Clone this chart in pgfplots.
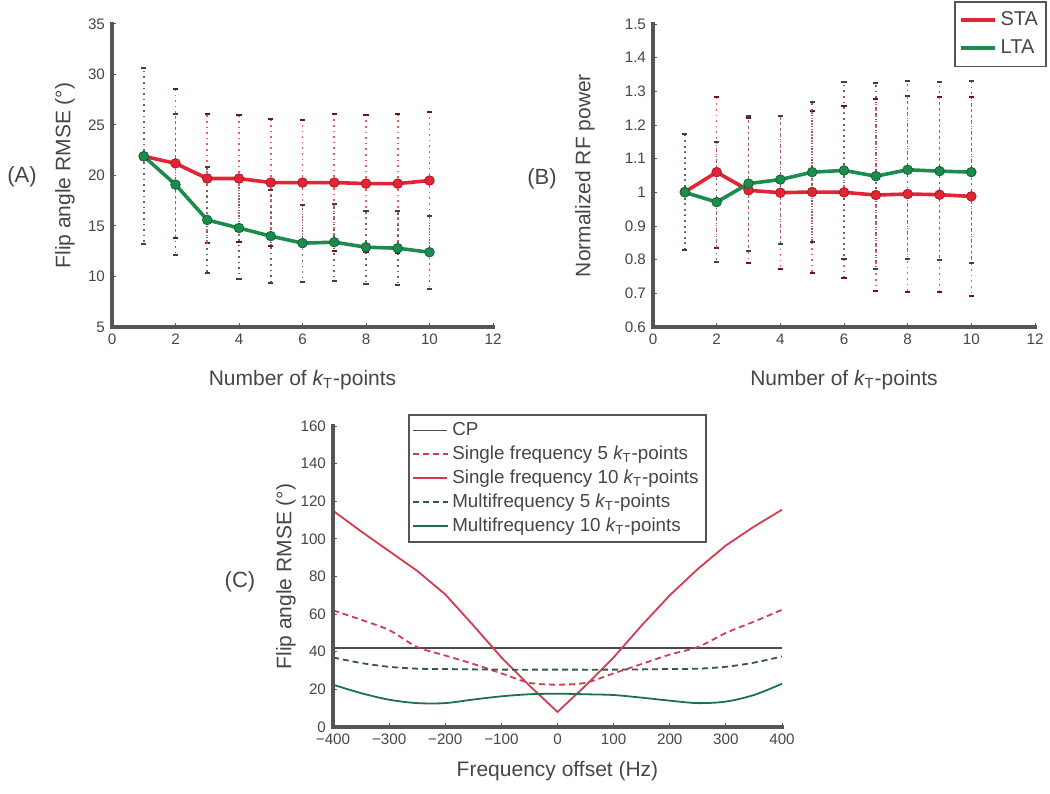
\documentclass[border=0pt]{standalone}
\usepackage{pgfplots}
\pgfplotsset{compat=1.18}
\usepackage{fontspec}
\setmainfont{Liberation Sans}

\definecolor{stared}{RGB}{226,36,52}
\definecolor{ltagreen}{RGB}{28,140,78}
\definecolor{axgray}{RGB}{85,85,85}
\definecolor{txtgray}{RGB}{70,70,70}
\definecolor{cpgray}{RGB}{75,75,75}
\definecolor{sfred}{RGB}{214,58,78}
\definecolor{mfdark}{RGB}{55,85,72}
\definecolor{mfgreen}{RGB}{30,112,82}

\newcommand{\kT}{{\itshape k}\textsubscript{T}}

\pgfplotsset{
  panel/.style={
    scale only axis,
    axis x line*=bottom, axis y line*=left,
    axis line style={-, line width=1.5pt, color=axgray},
    tick align=inside, major tick length=2pt,
    tick style={color=axgray, line width=0.5pt},
    /pgf/number format/assume math mode=true,
    ticklabel style={font=\fontsize{7.6}{9}\selectfont, color=txtgray},
    label style={font=\fontsize{10.5}{12}\selectfont, color=txtgray},
    clip=false,
    after end axis/.code={
      \draw[line width=1.8pt, axgray, line cap=rect]
        (rel axis cs:0,1) -- (rel axis cs:0,0) -- (rel axis cs:1,0);},
  },
  sta/.style={color=stared, line width=1.8pt, mark=*, mark size=2.4pt,
    mark options={solid, fill=stared, draw=stared!75!black, line width=0.4pt},
    error bars/y dir=both, error bars/y explicit,
    error bars/error bar style={line width=0.8pt, dotted, color=stared!75},
    error bars/error mark options={rotate=90, solid, line width=1pt, mark size=1.3pt, color=stared!50!black}},
  lta/.style={color=ltagreen, line width=1.8pt, mark=*, mark size=2.4pt,
    mark options={solid, fill=ltagreen, draw=ltagreen!70!black, line width=0.4pt},
    error bars/y dir=both, error bars/y explicit,
    error bars/error bar style={line width=0.8pt, dotted, color=black!60},
    error bars/error mark options={rotate=90, solid, line width=1pt, mark size=1.3pt, color=black!75}},
}

\begin{document}
\begin{tikzpicture}
\path[use as bounding box] (0,0) rectangle (525pt,396.5pt);

% (A) flip angle RMSE vs number of kT-points
\begin{axis}[panel,
  at={(56pt,233pt)}, anchor=south west,
  width=190.5pt, height=151.5pt,
  xmin=0, xmax=12, xtick={0,2,...,12},
  ymin=5, ymax=35, ytick={5,10,...,35},
  xlabel={Number of \kT-points},
  ylabel={Flip angle RMSE (°)},
  xlabel style={at={(axis description cs:0.5,0)}, anchor=center, yshift=-26.5pt},
  ylabel style={at={(axis description cs:0,0.5)}, anchor=center, yshift=23.5pt},
]
\addplot[sta] coordinates {
  (1,21.9) +- (0,8.7)  (2,21.2) +- (0,7.35) (3,19.7) +- (0,6.4)
  (4,19.7) +- (0,6.25) (5,19.3) +- (0,6.3)  (6,19.3) +- (0,6.2)
  (7,19.3) +- (0,6.75) (8,19.2) +- (0,6.8)  (9,19.2) +- (0,6.9)
  (10,19.5) +- (0,6.8)};
\addplot[lta] coordinates {
  (1,21.9) +- (0,8.7)  (2,19.1) +- (0,7.0)  (3,15.6) +- (0,5.25)
  (4,14.8) +- (0,5.0)  (5,14.0) +- (0,4.6)  (6,13.3) +- (0,3.8)
  (7,13.4) +- (0,3.8)  (8,12.9) +- (0,3.6)  (9,12.8) +- (0,3.65)
  (10,12.4) +- (0,3.6)};
\end{axis}

% (B) normalized RF power
\begin{axis}[panel,
  at={(326.5pt,233pt)}, anchor=south west,
  width=191pt, height=151.5pt,
  xmin=0, xmax=12, xtick={0,2,...,12},
  ymin=0.6, ymax=1.5, ytick={0.6,0.7,0.8,0.9,1,1.1,1.2,1.3,1.4,1.5},
  xlabel={Number of \kT-points},
  ylabel={Normalized RF power},
  xlabel style={at={(axis description cs:0.5,0)}, anchor=center, yshift=-26.5pt},
  ylabel style={at={(axis description cs:0,0.5)}, anchor=center, yshift=34pt},
  legend style={at={(1.031,1.076)}, anchor=north east, draw=axgray, line width=0.8pt,
    font=\fontsize{10}{12}\selectfont, text=txtgray, inner xsep=2pt, inner ysep=3pt,
    row sep=1.5pt},
  legend cell align=left,
]
\addlegendimage{stared, line width=1.8pt}
\addlegendentry{STA}
\addlegendimage{ltagreen, line width=1.8pt}
\addlegendentry{LTA}
\addplot[sta, forget plot] coordinates {
  (1,1.001) +- (0,0.172) (2,1.06) +- (0,0.224)  (3,1.006) +- (0,0.215)
  (4,0.999) +- (0,0.227) (5,1.001) +- (0,0.24)  (6,1.0) +- (0,0.255)
  (7,0.992) +- (0,0.285) (8,0.995) +- (0,0.29)  (9,0.993) +- (0,0.29)
  (10,0.988) +- (0,0.295)};
\addplot[lta, forget plot] coordinates {
  (1,1.0) +- (0,0.172)   (2,0.971) +- (0,0.179) (3,1.026) +- (0,0.2)
  (4,1.038) +- (0,0.19)  (5,1.06) +- (0,0.207)  (6,1.065) +- (0,0.262)
  (7,1.048) +- (0,0.277) (8,1.067) +- (0,0.264) (9,1.063) +- (0,0.265)
  (10,1.06) +- (0,0.27)};
\end{axis}

% (C) flip angle RMSE vs frequency offset
\begin{axis}[panel,
  at={(166.5pt,33pt)}, anchor=south west,
  width=224.5pt, height=150.5pt,
  xmin=-400, xmax=400, xtick={-400,-300,...,400},
  xticklabels={−400,−300,−200,−100,0,100,200,300,400},
  ymin=0, ymax=160, ytick={0,20,...,160},
  xlabel={Frequency offset (Hz)},
  ylabel={Flip angle RMSE (°)},
  xlabel style={at={(axis description cs:0.5,0)}, anchor=center, yshift=-22pt},
  ylabel style={at={(axis description cs:0,0.5)}, anchor=center, yshift=23.5pt},
  legend style={at={(0.167,1.04)}, anchor=north west, draw=axgray, line width=0.8pt,
    font=\fontsize{9.4}{10.5}\selectfont, text=txtgray, inner sep=1.8pt,
    row sep=-0.3pt},
  legend cell align=left,
]
\addplot[cpgray, line width=0.9pt] coordinates {(-400,42) (400,42)};
\addlegendentry{CP}
\addplot[sfred, line width=0.9pt, dash pattern=on 3pt off 2pt, smooth] coordinates {
  (-400,62) (-350,57) (-300,51.5) (-250,42.5) (-200,38) (-150,33.5) (-100,28.5)
  (-50,23.5) (0,22.5) (50,23.5) (100,28.5) (150,33.5) (200,38.5) (250,42.5)
  (300,50) (350,56) (400,62.3)};
\addlegendentry{Single frequency 5 \kT-points}
\addplot[sfred, line width=0.9pt] coordinates {
  (-400,115) (-350,104) (-300,93.5) (-250,83) (-200,70.5) (-150,54) (-100,37)
  (-50,22) (0,8) (50,22) (100,37) (150,54) (200,70) (250,84) (300,96.5)
  (350,106.5) (400,115.5)};
\addlegendentry{Single frequency 10 \kT-points}
\addplot[mfdark, line width=0.9pt, dash pattern=on 3pt off 2pt, smooth] coordinates {
  (-400,37) (-350,34) (-300,32) (-250,31) (-200,30.8) (-100,30.5) (0,30.5)
  (100,30.5) (200,30.8) (250,31) (300,32) (350,34.2) (400,37.5)};
\addlegendentry{Multifrequency 5 \kT-points}
\addplot[mfgreen, line width=0.9pt, smooth] coordinates {
  (-400,22.5) (-350,18) (-300,14.5) (-250,12.7) (-200,12.7) (-150,14.6) (-100,16.3)
  (-50,17.4) (0,17.7) (50,17.4) (100,17) (150,15.6) (200,14) (250,12.7) (300,13.5)
  (350,17) (400,23)};
\addlegendentry{Multifrequency 10 \kT-points}
\end{axis}

\node[font=\fontsize{11}{13}\selectfont, text=txtgray] at (11pt,308pt) {(A)};
\node[font=\fontsize{11}{13}\selectfont, text=txtgray] at (271pt,307pt) {(B)};
\node[font=\fontsize{11}{13}\selectfont, text=txtgray] at (120pt,105.5pt) {(C)};
\end{tikzpicture}
\end{document}
